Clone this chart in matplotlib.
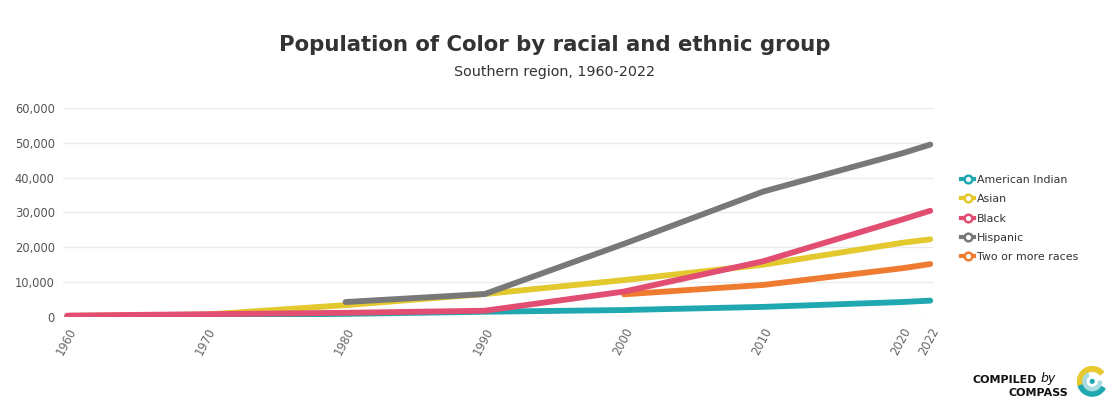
import matplotlib.pyplot as plt
from matplotlib.lines import Line2D
from matplotlib.patches import Wedge, Circle

# Données (Southern region)
years = [1960, 1970, 1980, 1990, 2000, 2010, 2020, 2022]
american_indian = [200, 400, 900, 1500, 2000, 2900, 4300, 4700]
asian = [300, 700, 3400, 6600, 10600, 15000, 21300, 22300]
black = [400, 800, 1200, 1800, 7300, 16000, 28000, 30500]
hispanic_years = [1980, 1990, 2000, 2010, 2020, 2022]
hispanic = [4300, 6600, 21000, 36000, 47000, 49500]
multi_years = [2000, 2010, 2020, 2022]
two_or_more = [6500, 9200, 14000, 15200]

series = [
    ("American Indian", years, american_indian, "#1fa8b0"),
    ("Asian", years, asian, "#e3c92e"),
    ("Black", years, black, "#e24d72"),
    ("Hispanic", hispanic_years, hispanic, "#787878"),
    ("Two or more races", multi_years, two_or_more, "#ee7b30"),
]
draw_order = ["American Indian", "Asian", "Hispanic", "Two or more races", "Black"]

fig = plt.figure(figsize=(11.1, 4.01), dpi=100)
ax = fig.add_axes([0.0568, 0.2095, 0.785, 0.5212])

by_name = {s[0]: s for s in series}
for z, name in enumerate(draw_order):
    _, xs, ys, col = by_name[name]
    ax.plot(xs, ys, color=col, lw=4.2, solid_capstyle="round", zorder=3 + z)

ax.set_xlim(1959.7, 2022.3)
ax.set_ylim(0, 60000)
ax.set_yticks(range(0, 60001, 10000))
ax.set_yticklabels([f"{v:,}" for v in range(0, 60001, 10000)], fontsize=8.3, color="#555555")
ax.set_xticks(years)
ax.set_xticklabels([str(y) for y in years], rotation=62, ha="right", va="top",
                   rotation_mode="anchor", fontsize=8.3, color="#666666")
ax.tick_params(length=0, pad=6)
ax.grid(axis="y", color="#ebebeb", lw=1)
ax.set_axisbelow(True)
for sp in ax.spines.values():
    sp.set_visible(False)

fig.text(0.5, 0.872, "Population of Color by racial and ethnic group", ha="center",
         fontsize=15.3, fontweight="bold", color="#333333")
fig.text(0.5, 0.81, "Southern region, 1960-2022", ha="center", fontsize=10.3, color="#333333")

handles = [Line2D([0], [0], color=c, lw=3, marker="o", markersize=5.5,
                  markerfacecolor="white", markeredgecolor=c, markeredgewidth=1.8)
           for _, _, _, c in series]
fig.legend(handles, [s[0] for s in series], loc="center left",
           bbox_to_anchor=(0.857, 0.455), frameon=False, fontsize=7.9,
           handlelength=1.2, handletextpad=0.25, labelspacing=0.85, labelcolor="#333333")

# logo Compass
fig.text(0.934, 0.052, "COMPILED", ha="right", va="center", fontsize=8, fontweight="bold", color="#111111")
fig.text(0.937, 0.056, "by", ha="left", va="center", fontsize=9, style="italic", color="#111111")
fig.text(0.962, 0.02, "COMPASS", ha="right", va="center", fontsize=8, fontweight="bold", color="#111111")
lax = fig.add_axes([0.970, 0.01, 0.028, 0.078])
lax.set_xlim(-1, 1)
lax.set_ylim(-1, 1)
lax.set_aspect("equal")
lax.axis("off")
lax.add_patch(Wedge((0, 0), 0.95, 40, 200, width=0.3, color="#e8c930"))
lax.add_patch(Wedge((0, 0), 0.95, 200, 330, width=0.3, color="#1fa8b0"))
lax.add_patch(Wedge((0, 0), 0.6, 120, 360, width=0.2, color="#a8dde0"))
lax.add_patch(Circle((0, 0), 0.12, color="#1fa8b0"))

fig.savefig("out.png", dpi=100, facecolor="white")
